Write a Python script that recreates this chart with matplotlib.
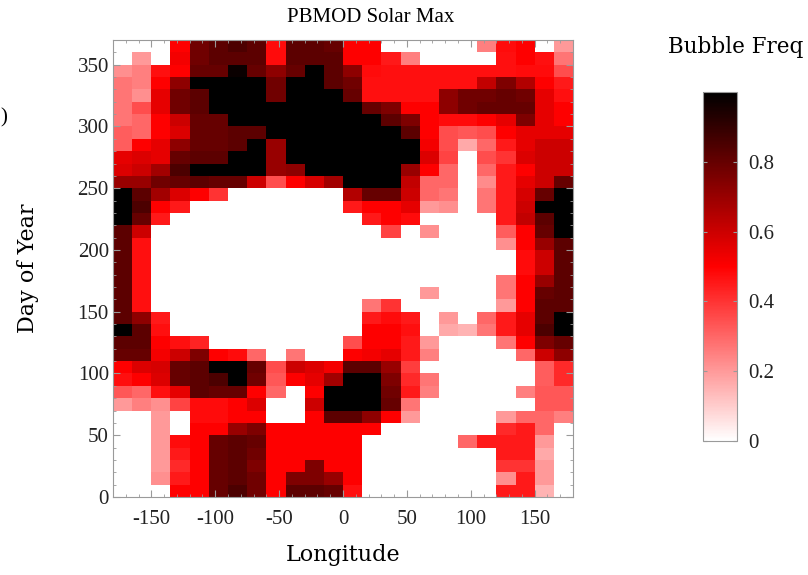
import matplotlib
matplotlib.use("Agg")
import matplotlib.pyplot as plt
import numpy as np
from matplotlib.colors import LinearSegmentedColormap

plt.rcParams.update({
    "font.family": ["Liberation Serif", "DejaVu Serif"],
    "font.size": 15,
    "axes.unicode_minus": False,
})

# bin edges: 15 deg longitude bins, 10 day bins
lon_edges = np.arange(-180, 181, 15)
day_edges = np.arange(0, 371, 10)

# bubble frequency, rows listed from the top (days 360-370) to the bottom (days 0-10)
freq_rows = [
    [0, 0, 0, .50, .78, .82, .85, .82, .48, .82, .82, .80, .50, .50, 0, 0, 0, 0, 0, .25, .48, .50, 0, .20],
    [0, .20, 0, .52, .78, .82, .82, .82, .48, .82, .82, .82, .50, .50, .45, .25, 0, 0, 0, 0, .47, .50, .47, .27],
    [.22, .25, .47, .50, .80, .80, .98, .80, .72, .80, 1, .82, .72, .48, .47, .47, .47, .47, .47, .47, .47, .48, .48, .35],
    [.27, .25, .50, .72, 1, 1, 1, 1, .78, 1, 1, .82, .78, .47, .47, .47, .47, .47, .47, .62, .75, .65, .50, .45],
    [.27, .22, .55, .78, .82, 1, 1, 1, .78, 1, 1, 1, .80, .47, .47, .47, .47, .72, .78, .78, .80, .78, .55, .47],
    [.27, .35, .55, .78, .82, 1, 1, 1, 1, 1, 1, 1, 1, .80, .75, .50, .50, .72, .78, .80, .80, .80, .55, .50],
    [.27, .30, .50, .60, .80, .80, 1, 1, 1, 1, 1, 1, 1, 1, .82, .75, .50, .48, .48, .50, .55, .75, .55, .50],
    [.32, .30, .50, .57, .80, .80, .82, .82, 1, 1, 1, 1, 1, 1, 1, .82, .50, .35, .33, .35, .50, .55, .55, .55],
    [.32, .50, .55, .72, .80, .80, .82, 1, .70, 1, 1, 1, 1, 1, 1, 1, .52, .35, .17, .30, .45, .55, .60, .60],
    [.55, .57, .55, .80, .82, .82, 1, 1, .70, 1, 1, 1, 1, 1, 1, 1, .57, .37, 0, .35, .40, .57, .60, .60],
    [.57, .60, .68, .85, 1, 1, 1, 1, .70, .72, 1, 1, 1, 1, 1, .70, .50, .30, 0, .30, .45, .50, .60, .60],
    [.70, .70, .78, .80, .82, .80, .80, .60, .35, .50, .58, .68, 1, 1, 1, .62, .30, .30, 0, .23, .45, .55, .60, .80],
    [1, .82, .68, .57, .50, .40, 0, 0, 0, 0, 0, 0, .65, .80, .80, .60, .30, .27, 0, .27, .45, .58, .80, 1],
    [1, .85, .50, .45, 0, 0, 0, 0, 0, 0, 0, 0, .45, .50, .50, .55, .20, .22, 0, .27, .45, .60, 1, 1],
    [1, .80, .45, 0, 0, 0, 0, 0, 0, 0, 0, 0, 0, .45, .50, .48, 0, 0, 0, 0, .45, .62, .82, 1],
    [.82, .60, 0, 0, 0, 0, 0, 0, 0, 0, 0, 0, 0, 0, .37, 0, .22, 0, 0, 0, .32, .50, .80, 1],
    [.82, .47, 0, 0, 0, 0, 0, 0, 0, 0, 0, 0, 0, 0, 0, 0, 0, 0, 0, 0, .22, .50, .70, .82],
    [.82, .47, 0, 0, 0, 0, 0, 0, 0, 0, 0, 0, 0, 0, 0, 0, 0, 0, 0, 0, 0, .48, .60, .82],
    [.82, .47, 0, 0, 0, 0, 0, 0, 0, 0, 0, 0, 0, 0, 0, 0, 0, 0, 0, 0, 0, .48, .60, .82],
    [.82, .47, 0, 0, 0, 0, 0, 0, 0, 0, 0, 0, 0, 0, 0, 0, 0, 0, 0, 0, .27, .50, .70, .82],
    [.82, .47, 0, 0, 0, 0, 0, 0, 0, 0, 0, 0, 0, 0, 0, 0, .20, 0, 0, 0, .27, .50, .80, .82],
    [.82, .47, 0, 0, 0, 0, 0, 0, 0, 0, 0, 0, 0, .27, .40, 0, 0, 0, 0, 0, .20, .50, .82, .82],
    [.82, .72, .45, 0, 0, 0, 0, 0, 0, 0, 0, 0, 0, .45, .48, .45, 0, .20, 0, .30, .45, .55, .82, 1],
    [1, .82, .47, 0, 0, 0, 0, 0, 0, 0, 0, 0, 0, .50, .50, .47, 0, .17, .15, .27, .45, .55, .85, 1],
    [.82, .82, .50, .47, .43, 0, 0, 0, 0, 0, 0, 0, .35, .50, .50, .45, .20, 0, 0, 0, .27, .50, .75, .80],
    [.80, .80, .52, .60, .75, .50, .48, .30, 0, .27, 0, 0, .50, .52, .55, .45, .25, 0, 0, 0, 0, .30, .60, .72],
    [.50, .57, .58, .80, .82, 1, 1, .80, .35, .60, .57, .52, .82, .82, .70, .38, 0, 0, 0, 0, 0, 0, .32, .42],
    [.47, .50, .57, .80, .82, .85, 1, .78, .33, .50, .55, .68, 1, 1, .75, .42, .27, 0, 0, 0, 0, 0, .32, .42],
    [.33, .30, .47, .55, .82, .80, .80, .50, .30, 0, .50, 1, 1, 1, .78, .45, .25, 0, 0, 0, 0, .25, .33, .33],
    [.20, .25, .22, .37, .48, .48, .50, .57, 0, 0, .60, 1, 1, 1, .80, .27, 0, 0, 0, 0, 0, 0, .33, .33],
    [0, 0, .20, 0, .48, .48, .50, .50, 0, 0, .50, .82, .82, .72, .50, .20, 0, 0, 0, 0, .20, .30, .30, .25],
    [0, 0, .20, 0, .50, .50, .70, .75, .50, .50, .50, .50, .50, .50, 0, 0, 0, 0, 0, 0, .42, .45, .30, 0],
    [0, 0, .20, .48, .50, .80, .82, .80, .50, .50, .50, .50, .50, 0, 0, 0, 0, 0, .30, .45, .45, .45, .20, 0],
    [0, 0, .20, .45, .50, .80, .82, .78, .50, .50, .50, .50, .50, 0, 0, 0, 0, 0, 0, 0, .45, .45, .17, 0],
    [0, 0, .20, .42, .50, .80, .82, .75, .50, .50, .75, .50, .50, 0, 0, 0, 0, 0, 0, 0, .40, .40, .20, 0],
    [0, 0, .22, .45, .50, .80, .82, .78, .50, .75, .75, .70, .50, 0, 0, 0, 0, 0, 0, 0, .22, .45, .20, 0],
    [0, 0, 0, .50, .50, .80, .85, .78, .50, .82, .82, .80, .47, 0, 0, 0, 0, 0, 0, 0, .45, .45, .15, 0],
]
freq = np.flipud(np.array(freq_rows))

x_ticks = [-150, -100, -50, 0, 50, 100, 150]
y_ticks = [0, 50, 100, 150, 200, 250, 300, 350]
cbar_ticks = [0, 0.2, 0.4, 0.6, 0.8]
cbar_labels = ["0", "0.2", "0.4", "0.6", "0.8"]

cmap = LinearSegmentedColormap.from_list("wrk", ["white", "red", "black"])
frame = "#9a9a9a"

fig = plt.figure(figsize=(8.08, 5.75), dpi=100)
ax = fig.add_axes([113 / 808, 78 / 575, 460 / 808, 457 / 575])

mesh = ax.pcolormesh(lon_edges, day_edges, freq, cmap=cmap, vmin=0, vmax=1,
                     shading="flat", antialiased=False)
ax.set_xlim(-180, 180)
ax.set_ylim(0, 370)
ax.set_xticks(x_ticks)
ax.set_yticks(y_ticks)
ax.set_xticks(np.arange(-180, 181, 10), minor=True)
ax.set_yticks(np.arange(0, 371, 10), minor=True)
ax.tick_params(which="both", direction="in", top=True, right=True, color=frame,
               labelsize=15, labelcolor="#222222")
ax.tick_params(which="major", length=5)
ax.tick_params(which="minor", length=2.5)
ax.tick_params(axis="x", which="major", pad=9)
ax.tick_params(axis="y", which="major", pad=3)
for s in ax.spines.values():
    s.set_color(frame)

fig.text(371 / 808, 1 - 17 / 575, "PBMOD Solar Max", fontsize=15,
         ha="center", va="center")
ax.set_xlabel("Longitude", fontsize=16, family="DejaVu Serif")
ax.set_ylabel("Day of Year", fontsize=16, family="DejaVu Serif")
ax.xaxis.set_label_coords(0.5, (497 - 555) / 457)
ax.yaxis.set_label_coords((28 - 113) / 460, 0.5)
ax.xaxis.label.set_va("center")
ax.yaxis.label.set_va("center")

cax = fig.add_axes([703 / 808, 134 / 575, 34 / 808, 349 / 575])
cb = fig.colorbar(mesh, cax=cax, ticks=cbar_ticks)
cb.ax.set_yticklabels(cbar_labels)
cb.ax.tick_params(direction="in", left=True, right=True, length=3, color=frame,
                  labelsize=15, labelcolor="#222222", pad=8)
cb.outline.set_edgecolor(frame)

fig.text(668 / 808, 1 - 47 / 575, "Bubble Freq", fontsize=15.5,
         family="DejaVu Serif", ha="left", va="center")
fig.text(0.0, 1 - 118 / 575, ")", fontsize=15, ha="left", va="center")

fig.savefig("out.png", dpi=100)
